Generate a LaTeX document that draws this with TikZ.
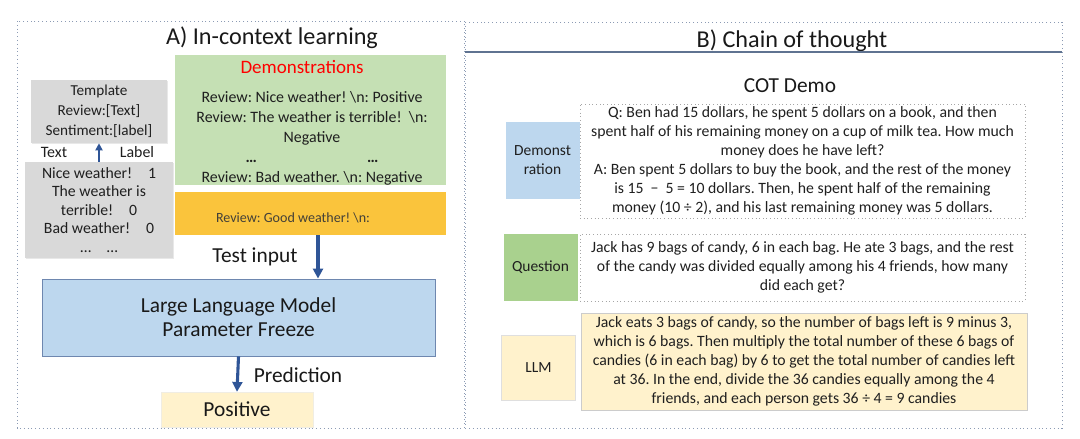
\documentclass[tikz,border=0pt]{standalone}
\usepackage{fontspec}
\setmainfont{Carlito}
\frenchspacing
\usepackage{tikz}
\usetikzlibrary{positioning, arrows.meta, shadows}
\definecolor{DemoGreen}{RGB}{197,224,180}
\definecolor{TestGold}{RGB}{250,196,60}
\definecolor{TmplGray}{RGB}{217,217,217}
\definecolor{ModelBlue}{RGB}{189,215,238}
\definecolor{ModelEdge}{RGB}{110,135,175}
\definecolor{PredYellow}{RGB}{255,242,204}
\definecolor{QGreen}{RGB}{169,209,142}
\definecolor{ArrowBlue}{RGB}{47,85,151}
\definecolor{PanelEdge}{RGB}{140,155,180}
\definecolor{TitleRule}{RGB}{95,115,145}
\def\px{0.025cm}
\tikzset{
  panel/.style={draw=PanelEdge, dotted, line width=0.7pt},
  ptitle/.style={font=\fontsize{17.2}{20}\selectfont, text=black!90},
  bigtxt/.style={font=\fontsize{15.2}{17}\selectfont, text=black!90, align=center},
  lefttxt/.style={font=\fontsize{11.3}{14.2}\selectfont, text=black!88, align=center, inner sep=0pt},
  cottxt/.style={font=\fontsize{11.2}{13.6}\selectfont, text=black!88, align=center, inner sep=0pt},
  graybox/.style={lefttxt, fill=TmplGray, drop shadow={opacity=0.18, shadow xshift=1pt, shadow yshift=-1pt}},
  demobox/.style={fill=DemoGreen, minimum width=271*\px, minimum height=130*\px, inner sep=0pt},
  goldbox/.style={fill=TestGold, minimum width=271*\px, minimum height=43*\px, inner sep=0pt},
  modelbox/.style={bigtxt, fill=ModelBlue, draw=ModelEdge, line width=0.6pt,
    minimum width=393*\px, minimum height=77*\px},
  predbox/.style={bigtxt, fill=PredYellow, draw=PredYellow!80!black!30, line width=0.3pt,
    minimum width=152*\px, minimum height=35*\px},
  tagbox/.style={font=\fontsize{11}{13.5}\selectfont, text=black!88, align=center, inner sep=0pt,
    minimum width=74*\px},
  cotbox/.style={cottxt, draw=gray!70, dotted, line width=0.6pt, minimum width=445*\px},
  arr/.style={-{Triangle[length=7pt, width=7pt]}, line width=2.2pt, ArrowBlue},
}
\begin{document}
\begin{tikzpicture}[x=\px, y=-\px]
  \useasboundingbox (0,0) rectangle (1080,439);
  % A) in-context learning
  \draw[panel] (17,21) rectangle (464,428);
  \node[ptitle] (titleA) at (272,38) {A) In-context learning};
  \node[demobox] (demo) at (310.5,120) {};
  \node[font=\fontsize{13.5}{16}\selectfont, text=red] (demohead) at (302,67) {Demonstrations};
  \node[lefttxt] (demolines) at (312,138.5) {Review: Nice weather! \textbackslash n: Positive\\
    Review: The weather is terrible!~ \textbackslash n:\\ Negative\\
    \textbf{\ldots}\hspace{2.75cm}\textbf{\ldots}\\ Review: Bad weather. \textbackslash n: Negative};
  \node[goldbox] (test) at (310.5,213.5) {};
  \node[font=\fontsize{10}{12}\selectfont, text=black!85!yellow] (testtxt) at (293,218) {Review: Good weather! \textbackslash n:};
  \node[graybox, font=\fontsize{10.8}{14.2}\selectfont, minimum width=136*\px, minimum height=63*\px] (tmpl) at (99,111.5)
    {Template\\ Review:[Text]\\ Sentiment:[label]};
  \node[lefttxt] (coltext) at (54,152) {Text};
  \node[lefttxt] (collabel) at (137,152) {Label};
  \node[graybox, font=\fontsize{11.2}{13.2}\selectfont, minimum width=148*\px, minimum height=96*\px] (rows) at (99,210)
    {Nice weather!\quad 1\\ The weather is\\ terrible!\quad 0\\ Bad weather!\quad 0\\ \ldots\quad\ldots};
  \draw[arr, -{Triangle[length=5pt, width=5pt]}, line width=1.6pt] (rows.north) -- (tmpl.south);
  \node[modelbox] (llm) at (238.5,317.5) {Large Language Model\\ Parameter Freeze};
  \draw[arr] ([xshift=7.5*\px]test.south) -- ([xshift=7.5*\px]test.south |- llm.north);
  \node[bigtxt] (testlbl) at (255,257) {Test input};
  \node[predbox] (pred) at (237,409.5) {Positive};
  \draw[arr] (llm.south) -- (pred.north);
  \node[bigtxt] (predlbl) at (298,375) {Prediction};
  % B) chain of thought
  \draw[panel] (465,22) rectangle (1062,428);
  \node[ptitle] (titleB) at (792,41) {B) Chain of thought};
  \draw[TitleRule, line width=1pt] (465,52) -- (1062,52);
  \node[bigtxt] (cothead) at (790,86) {COT Demo};
  \node[cotbox, minimum height=114*\px] (demotxt) at (802.5,161)
    {Q: Ben had 15 dollars, he spent 5 dollars on a book, and then\\
    spent half of his remaining money on a cup of milk tea. How much\\
    money does he have left?\\
    A: Ben spent 5 dollars to buy the book, and the rest of the money\\
    is 15 ~−~ 5 = 10 dollars. Then, he spent half of the remaining\\
    money (10 ÷ 2), and his last remaining money was 5 dollars.};
  \node[tagbox, fill=ModelBlue, minimum height=77*\px] (demotag) at (542.5,160.5) {Demonst\\ ration};
  \node[cotbox, minimum height=67*\px] (qtxt) at (802.5,267.5)
    {Jack has 9 bags of candy, 6 in each bag. He ate 3 bags, and the rest\\
    of the candy was divided equally among his 4 friends, how many\\
    did each get?};
  \node[tagbox, fill=QGreen, minimum height=67*\px] (qtag) at (540.5,267.5) {Question};
  \node[cotbox, fill=PredYellow, draw=gray!40, solid, line width=0.3pt, minimum width=446*\px, minimum height=97*\px] (atxt) at (804,361.5)
    {Jack eats 3 bags of candy, so the number of bags left is 9 minus 3,\\
    which is 6 bags. Then multiply the total number of these 6 bags of\\
    candies (6 in each bag) by 6 to get the total number of candies left\\
    at 36. In the end, divide the 36 candies equally among the 4\\
    friends, and each person gets 36 ÷ 4 = 9 candies};
  \node[tagbox, fill=PredYellow, draw=gray!25, line width=0.3pt, minimum height=65*\px] (atag) at (538.5,367.5) {LLM};
\end{tikzpicture}
\end{document}
